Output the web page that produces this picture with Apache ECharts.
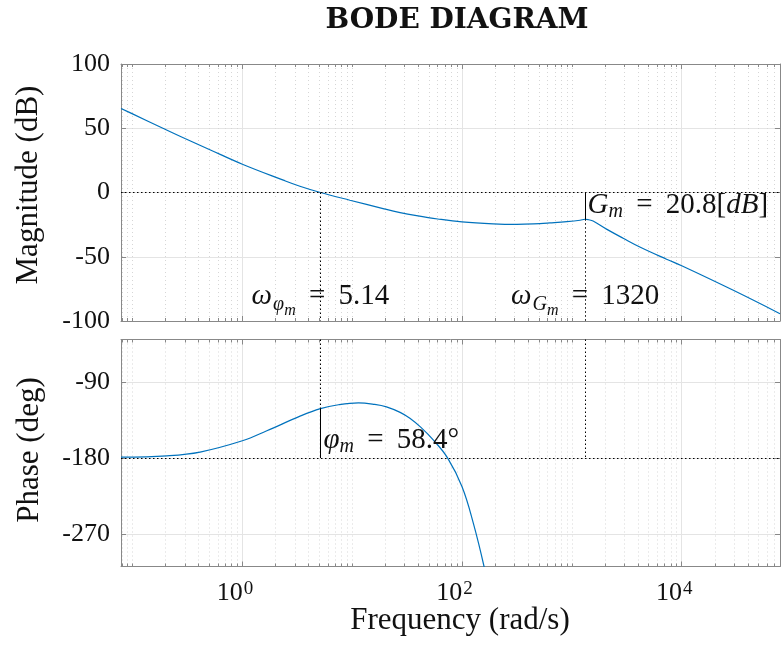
<!DOCTYPE html>
<html>
<head>
<meta charset="utf-8">
<script src="https://cdn.jsdelivr.net/npm/echarts@6/dist/echarts.min.js"></script>
<style>html,body{margin:0;padding:0;background:#fff}#c{width:781px;height:645px}</style>
</head>
<body>
<div id="c"></div>
<script>
// ---------- data ----------
const magFreq = [0.0785, 0.1, 0.191, 0.3, 0.5, 1, 2.36, 3.34, 5.14, 9.52, 19.1, 27.3, 38.5, 60, 100, 192, 315, 511, 630, 900, 1186, 1320, 1420, 1560, 2067, 2930, 4155, 7275, 10000, 29500, 78500];
const magDb   = [65.4, 61.2, 49.8, 42.0, 33.5, 22.0, 9.6, 4.9, 0, -6.0, -12.5, -15.6, -18.0, -20.6, -22.9, -24.4, -24.8, -24.2, -23.7, -22.7, -21.6, -20.8, -21.2, -22.2, -28.5, -35.6, -42.4, -51.9, -57.0, -76.1, -94.3];
const phaseFreq = [0.0785, 0.205, 0.412, 1, 1.67, 3.35, 5.14, 7.5, 11.4, 16, 20.5, 27.3, 33.5, 42, 54.9, 74, 100, 126.8, 158.6, 180];
const phaseDeg  = [-178.8, -177.3, -172.9, -159.6, -147.8, -130.5, -121.6, -117.0, -114.8, -116.6, -119.5, -126.0, -133.0, -143.5, -158.8, -180, -213.8, -257, -308, -345];

const magTicks = [-100, -50, 0, 50, 100];
const phaseTicks = [-270, -180, -90];
const freqMajorTicks = [1, 100, 10000];
const freqTickExponents = ['0', '2', '4'];
const freqMinorTicks = [0.08, 0.09, 0.1, 0.2, 0.3, 0.4, 0.5, 0.6, 0.7, 0.8, 0.9,
  2, 3, 4, 5, 6, 7, 8, 9, 10, 20, 30, 40, 50, 60, 70, 80, 90,
  200, 300, 400, 500, 600, 700, 800, 900, 1000, 2000, 3000, 4000, 5000, 6000, 7000, 8000, 9000,
  20000, 30000, 40000, 50000, 60000, 70000];

const freqRange = [0.0785, 78500];
const magRange = [-100, 100];
const phaseRange = [-308, -40];

const wPhaseMargin = 5.14;
const phaseMargin = 58.4;
const wGainMargin = 1320;
const gainMargin = 20.8;

// ---------- styling ----------
const SERIF = 'Liberation Serif';
const AXIS_COLOR = '#888888';
const GRID_COLOR = '#e4e4e4';
const MINOR_COLOR = '#d6d6d6';
const CURVE_COLOR = '#0072BD';

const rich = {
  n:  {fontFamily: SERIF, fontSize: 29, color: '#111', lineHeight: 42, verticalAlign: 'top', padding: [2, 0, 0, 0]},
  eq: {fontFamily: SERIF, fontSize: 29, color: '#111', lineHeight: 42, verticalAlign: 'top', padding: [2, 6, 0, 6]},
  i:  {fontFamily: SERIF, fontSize: 29, fontStyle: 'italic', color: '#111', lineHeight: 42, verticalAlign: 'top', padding: [2, 0, 0, 0]},
  s:  {fontFamily: SERIF, fontSize: 20, fontStyle: 'italic', color: '#111', lineHeight: 42, verticalAlign: 'top', padding: [13, 0, 0, 0]},
  s2: {fontFamily: SERIF, fontSize: 20, fontStyle: 'italic', color: '#111', lineHeight: 42, verticalAlign: 'top', padding: [15, 0, 0, 1]},
  ss: {fontFamily: SERIF, fontSize: 16, fontStyle: 'italic', color: '#111', lineHeight: 42, verticalAlign: 'top', padding: [23, 0, 0, 0]}
};

function xAxis(gridIndex, position, ticks, len, opts) {
  opts = opts || {};
  return {
    type: 'log', logBase: 10, gridIndex: gridIndex, position: position,
    min: freqRange[0], max: freqRange[1],
    axisLine: {show: !!opts.line, onZero: false, lineStyle: {color: AXIS_COLOR, width: 1}},
    axisTick: {show: true, inside: true, length: len, customValues: ticks, lineStyle: {color: AXIS_COLOR, width: 1}},
    axisLabel: opts.label || {show: false},
    splitLine: opts.split ? {show: true, lineStyle: opts.split} : {show: false},
    minorTick: {show: false}, minorSplitLine: {show: false}
  };
}

const xLabel = {
  show: true, customValues: freqMajorTicks, margin: 10, padding: [0, 15, 0, 0],
  formatter: function (v) {
    let k = 0, best = Infinity;
    freqMajorTicks.forEach(function (t, j) { const d = Math.abs(Math.log10(t) - Math.log10(v)); if (d < best) { best = d; k = j; } });
    return '{b|10}{sup|' + freqTickExponents[k] + '}';
  },
  rich: {
    b: {fontFamily: SERIF, fontSize: 26, color: '#111', lineHeight: 30, verticalAlign: 'top', padding: [4, 0, 0, 0]},
    sup: {fontFamily: SERIF, fontSize: 19, color: '#111', lineHeight: 30, verticalAlign: 'top', padding: [3, 0, 0, 1]}
  }
};

function yAxis(gridIndex, position, range, ticks, withLabel) {
  return {
    type: 'value', gridIndex: gridIndex, position: position,
    min: range[0], max: range[1],
    axisLine: {show: true, onZero: false, lineStyle: {color: AXIS_COLOR, width: 1}},
    axisTick: {show: true, inside: true, length: 5, customValues: ticks, lineStyle: {color: AXIS_COLOR, width: 1}},
    axisLabel: withLabel ? {show: true, customValues: ticks, margin: 11, fontFamily: SERIF, fontSize: 26, color: '#111'} : {show: false},
    splitLine: withLabel ? {show: true, lineStyle: {color: GRID_COLOR, width: 1}} : {show: false}
  };
}

const dotted = {color: '#000', width: 1, type: [1.5, 2.5]};
const solid = {color: '#000', width: 1, type: 'solid'};

function textMark(x, y, text, align, dx, dy) {
  return {
    coord: [x, y], symbol: 'circle', symbolSize: 0,
    label: {show: true, position: [0, 0], offset: [dx, dy], align: align, verticalAlign: 'top', formatter: text, rich: rich}
  };
}

const option = {
  animation: false,
  backgroundColor: '#fff',
  grid: [
    {left: 121, top: 64, width: 659, height: 257, containLabel: false},
    {left: 121, top: 339.5, width: 659, height: 227, containLabel: false}
  ],
  xAxis: [
    xAxis(0, 'bottom', freqMajorTicks, 5, {line: true, split: {color: GRID_COLOR, width: 1}}),
    xAxis(0, 'bottom', freqMinorTicks, 3, {split: {color: MINOR_COLOR, width: 1, type: [1, 3]}}),
    xAxis(0, 'top', freqMajorTicks, 5, {line: true}),
    xAxis(0, 'top', freqMinorTicks, 3, {}),
    xAxis(1, 'bottom', freqMajorTicks, 5, {line: true, split: {color: GRID_COLOR, width: 1}, label: xLabel}),
    xAxis(1, 'bottom', freqMinorTicks, 3, {split: {color: MINOR_COLOR, width: 1, type: [1, 3]}}),
    xAxis(1, 'top', freqMajorTicks, 5, {line: true}),
    xAxis(1, 'top', freqMinorTicks, 3, {})
  ],
  yAxis: [
    yAxis(0, 'left', magRange, magTicks, true),
    yAxis(0, 'right', magRange, magTicks, false),
    yAxis(1, 'left', phaseRange, phaseTicks, true),
    yAxis(1, 'right', phaseRange, phaseTicks, false)
  ],
  graphic: [
    {type: 'text', x: 457, y: 21, style: {text: 'BODE DIAGRAM', fontFamily: 'DejaVu Serif', fontWeight: 'bold', fontSize: 28, fill: '#111', align: 'center', verticalAlign: 'middle'}},
    {type: 'text', x: 29, y: 185, rotation: Math.PI / 2, style: {text: 'Magnitude (dB)', fontFamily: SERIF, fontSize: 31, fill: '#111', align: 'center', verticalAlign: 'middle'}},
    {type: 'text', x: 30, y: 450, rotation: Math.PI / 2, style: {text: 'Phase (deg)', fontFamily: SERIF, fontSize: 31, fill: '#111', align: 'center', verticalAlign: 'middle'}},
    {type: 'text', x: 460, y: 621, style: {text: 'Frequency (rad/s)', fontFamily: SERIF, fontSize: 31, fill: '#111', align: 'center', verticalAlign: 'middle'}}
  ],
  series: [
    {
      type: 'line', xAxisIndex: 0, yAxisIndex: 0,
      data: magFreq.map(function (f, k) { return [f, magDb[k]]; }),
      showSymbol: false, smooth: 0.4, clip: true,
      lineStyle: {color: CURVE_COLOR, width: 1.2}, itemStyle: {color: CURVE_COLOR},
      markLine: {
        silent: true, symbol: ['none', 'none'], label: {show: false}, animation: false,
        data: [
          {yAxis: 0, lineStyle: dotted},
          [{coord: [wPhaseMargin, 0], lineStyle: dotted}, {coord: [wPhaseMargin, magRange[0]]}],
          [{coord: [wGainMargin, -gainMargin], lineStyle: dotted}, {coord: [wGainMargin, magRange[0]]}],
          [{coord: [wGainMargin, 0], lineStyle: solid}, {coord: [wGainMargin, -gainMargin]}]
        ]
      },
      markPoint: {
        silent: true, animation: false,
        data: [
          textMark(wPhaseMargin, -90, '{i|ω}{s2|φ}{ss|m}{eq| = }{n|' + wPhaseMargin + '}', 'center', 0, -28),
          textMark(wGainMargin, -90, '{i|ω}{s2|G}{ss|m}{eq| = }{n|' + wGainMargin + '}', 'center', 0, -28),
          textMark(wGainMargin, -gainMargin / 2, '{i|G}{s|m}{eq| = }{n|' + gainMargin + '[}{i|dB}{n|]}', 'left', 2.5, -17)
        ]
      }
    },
    {
      type: 'line', xAxisIndex: 4, yAxisIndex: 2,
      data: phaseFreq.map(function (f, k) { return [f, phaseDeg[k]]; }),
      showSymbol: false, smooth: 0.4, clip: true,
      lineStyle: {color: CURVE_COLOR, width: 1.2}, itemStyle: {color: CURVE_COLOR},
      markLine: {
        silent: true, symbol: ['none', 'none'], label: {show: false}, animation: false,
        data: [
          {yAxis: -180, lineStyle: dotted},
          [{coord: [wPhaseMargin, phaseRange[1]], lineStyle: dotted}, {coord: [wPhaseMargin, -180 + phaseMargin]}],
          [{coord: [wPhaseMargin, -180 + phaseMargin], lineStyle: solid}, {coord: [wPhaseMargin, -180]}],
          [{coord: [wGainMargin, phaseRange[1]], lineStyle: dotted}, {coord: [wGainMargin, -180]}]
        ]
      },
      markPoint: {
        silent: true, animation: false,
        data: [
          textMark(wPhaseMargin, -160, '{i|φ}{s|m}{eq| = }{n|' + phaseMargin + '°}', 'left', 3, -17.5)
        ]
      }
    }
  ]
};

const chart = echarts.init(document.getElementById('c'), null, {renderer: 'canvas'});
chart.setOption(option);
</script>
</body>
</html>
